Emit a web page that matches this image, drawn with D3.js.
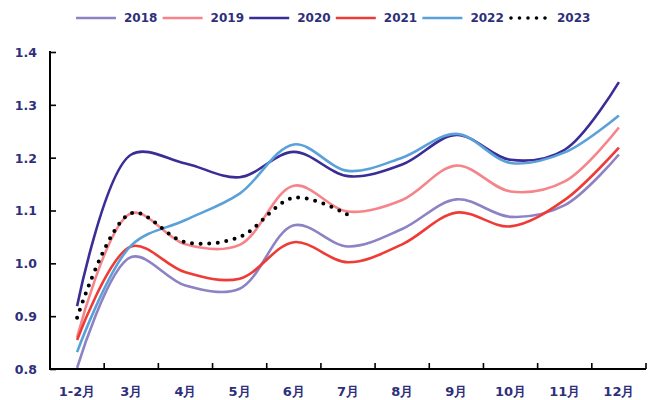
<!DOCTYPE html>
<html>
<head>
<meta charset="utf-8">
<script src="https://cdn.jsdelivr.net/npm/d3@7"></script>
<style>
  html, body { margin: 0; padding: 0; background: #fff; }
  svg { display: block; }
  text { font-family: "DejaVu Sans", Verdana, sans-serif; font-weight: bold; fill: #2e2f7a; }
</style>
</head>
<body>
<svg id="chart" width="654" height="400"></svg>
<script>
// Monthly index by year
const months = ["1-2月", "3月", "4月", "5月", "6月", "7月", "8月", "9月", "10月", "11月", "12月"];
const years = ["2018", "2019", "2020", "2021", "2022", "2023"];
const v2018 = [0.802, 1.012, 0.958, 0.952, 1.072, 1.032, 1.065, 1.121, 1.088, 1.110, 1.206];
const v2019 = [0.860, 1.095, 1.036, 1.035, 1.147, 1.098, 1.120, 1.185, 1.136, 1.155, 1.257];
const v2020 = [0.919, 1.206, 1.189, 1.163, 1.211, 1.165, 1.187, 1.243, 1.196, 1.215, 1.343];
const v2021 = [0.855, 1.032, 0.983, 0.971, 1.040, 1.002, 1.036, 1.096, 1.070, 1.120, 1.219];
const v2022 = [0.832, 1.034, 1.082, 1.132, 1.225, 1.175, 1.200, 1.245, 1.190, 1.210, 1.280];
const v2023 = [0.897, 1.095, 1.040, 1.050, 1.124, 1.092];
const yTicks = [0.8, 0.9, 1.0, 1.1, 1.2, 1.3, 1.4];

const seriesValues = [v2018, v2019, v2020, v2021, v2022, v2023];
const colors = ["#8c82c4", "#f5858a", "#3a2e96", "#ee3b36", "#5aa1da", "#000000"];

const svg = d3.select("#chart");
const plotLeft = 50, plotRight = 646, plotTop = 52, plotBottom = 369;

const x = d3.scaleBand().domain(months).range([plotLeft, plotRight]).padding(0);
const y = d3.scaleLinear().domain([0.8, 1.4]).range([plotBottom, plotTop]);
const cx = m => x(m) + x.bandwidth() / 2;

// Lines
const line = d3.line()
  .x((d, i) => cx(months[i]))
  .y(d => y(d))
  .curve(d3.curveCatmullRom.alpha(0.5));

const plot = svg.append("g");
seriesValues.forEach((vals, k) => {
  const dotted = years[k] === "2023";
  plot.append("path")
    .datum(vals)
    .attr("d", line)
    .attr("fill", "none")
    .attr("stroke", colors[k])
    .attr("stroke-width", dotted ? 4 : 2.6)
    .attr("stroke-linecap", dotted ? "round" : "butt")
    .attr("stroke-dasharray", dotted ? "0 8.6" : null);
});

// Y axis with inward ticks
const yAxis = svg.append("g")
  .attr("transform", `translate(${plotLeft},0)`)
  .call(d3.axisRight(y).tickValues(yTicks).tickSize(6).tickFormat(d3.format(".1f")));
yAxis.select(".domain").remove();
yAxis.selectAll(".tick line").attr("stroke", "#000").attr("stroke-width", 1.6);
yAxis.selectAll(".tick text")
  .attr("x", -13).attr("text-anchor", "end").attr("dy", "0.35em")
  .style("font-size", "12.5px");

// X axis: ticks at category boundaries, pointing up
const xg = svg.append("g");
months.forEach((m, i) => {
  const bx = x(m) + x.bandwidth();
  xg.append("line").attr("x1", bx).attr("x2", bx).attr("y1", plotBottom).attr("y2", plotBottom - 6)
    .attr("stroke", "#000").attr("stroke-width", 1.6);
  xg.append("text").attr("x", cx(m)).attr("y", 391).attr("text-anchor", "middle")
    .attr("dy", "0.35em").style("font-size", "13px").text(m);
});

// Axis lines
svg.append("path")
  .attr("d", `M${plotLeft},${plotTop - 1}V${plotBottom}H${plotRight}`)
  .attr("fill", "none").attr("stroke", "#000").attr("stroke-width", 2);

// Legend
const lg = svg.append("g");
years.forEach((yr, k) => {
  const x0 = 76 + k * 86.6;
  const dotted = yr === "2023";
  lg.append("line").attr("x1", x0 + (dotted ? 2 : 0)).attr("x2", x0 + 40).attr("y1", 18).attr("y2", 18)
    .attr("stroke", colors[k])
    .attr("stroke-width", dotted ? 3.6 : 2.6)
    .attr("stroke-linecap", dotted ? "round" : "butt")
    .attr("stroke-dasharray", dotted ? "0 8.5" : null);
  lg.append("text").attr("x", x0 + 48).attr("y", 18).attr("dy", "0.35em")
    .style("font-size", "12px").text(yr);
});
</script>
</body>
</html>
